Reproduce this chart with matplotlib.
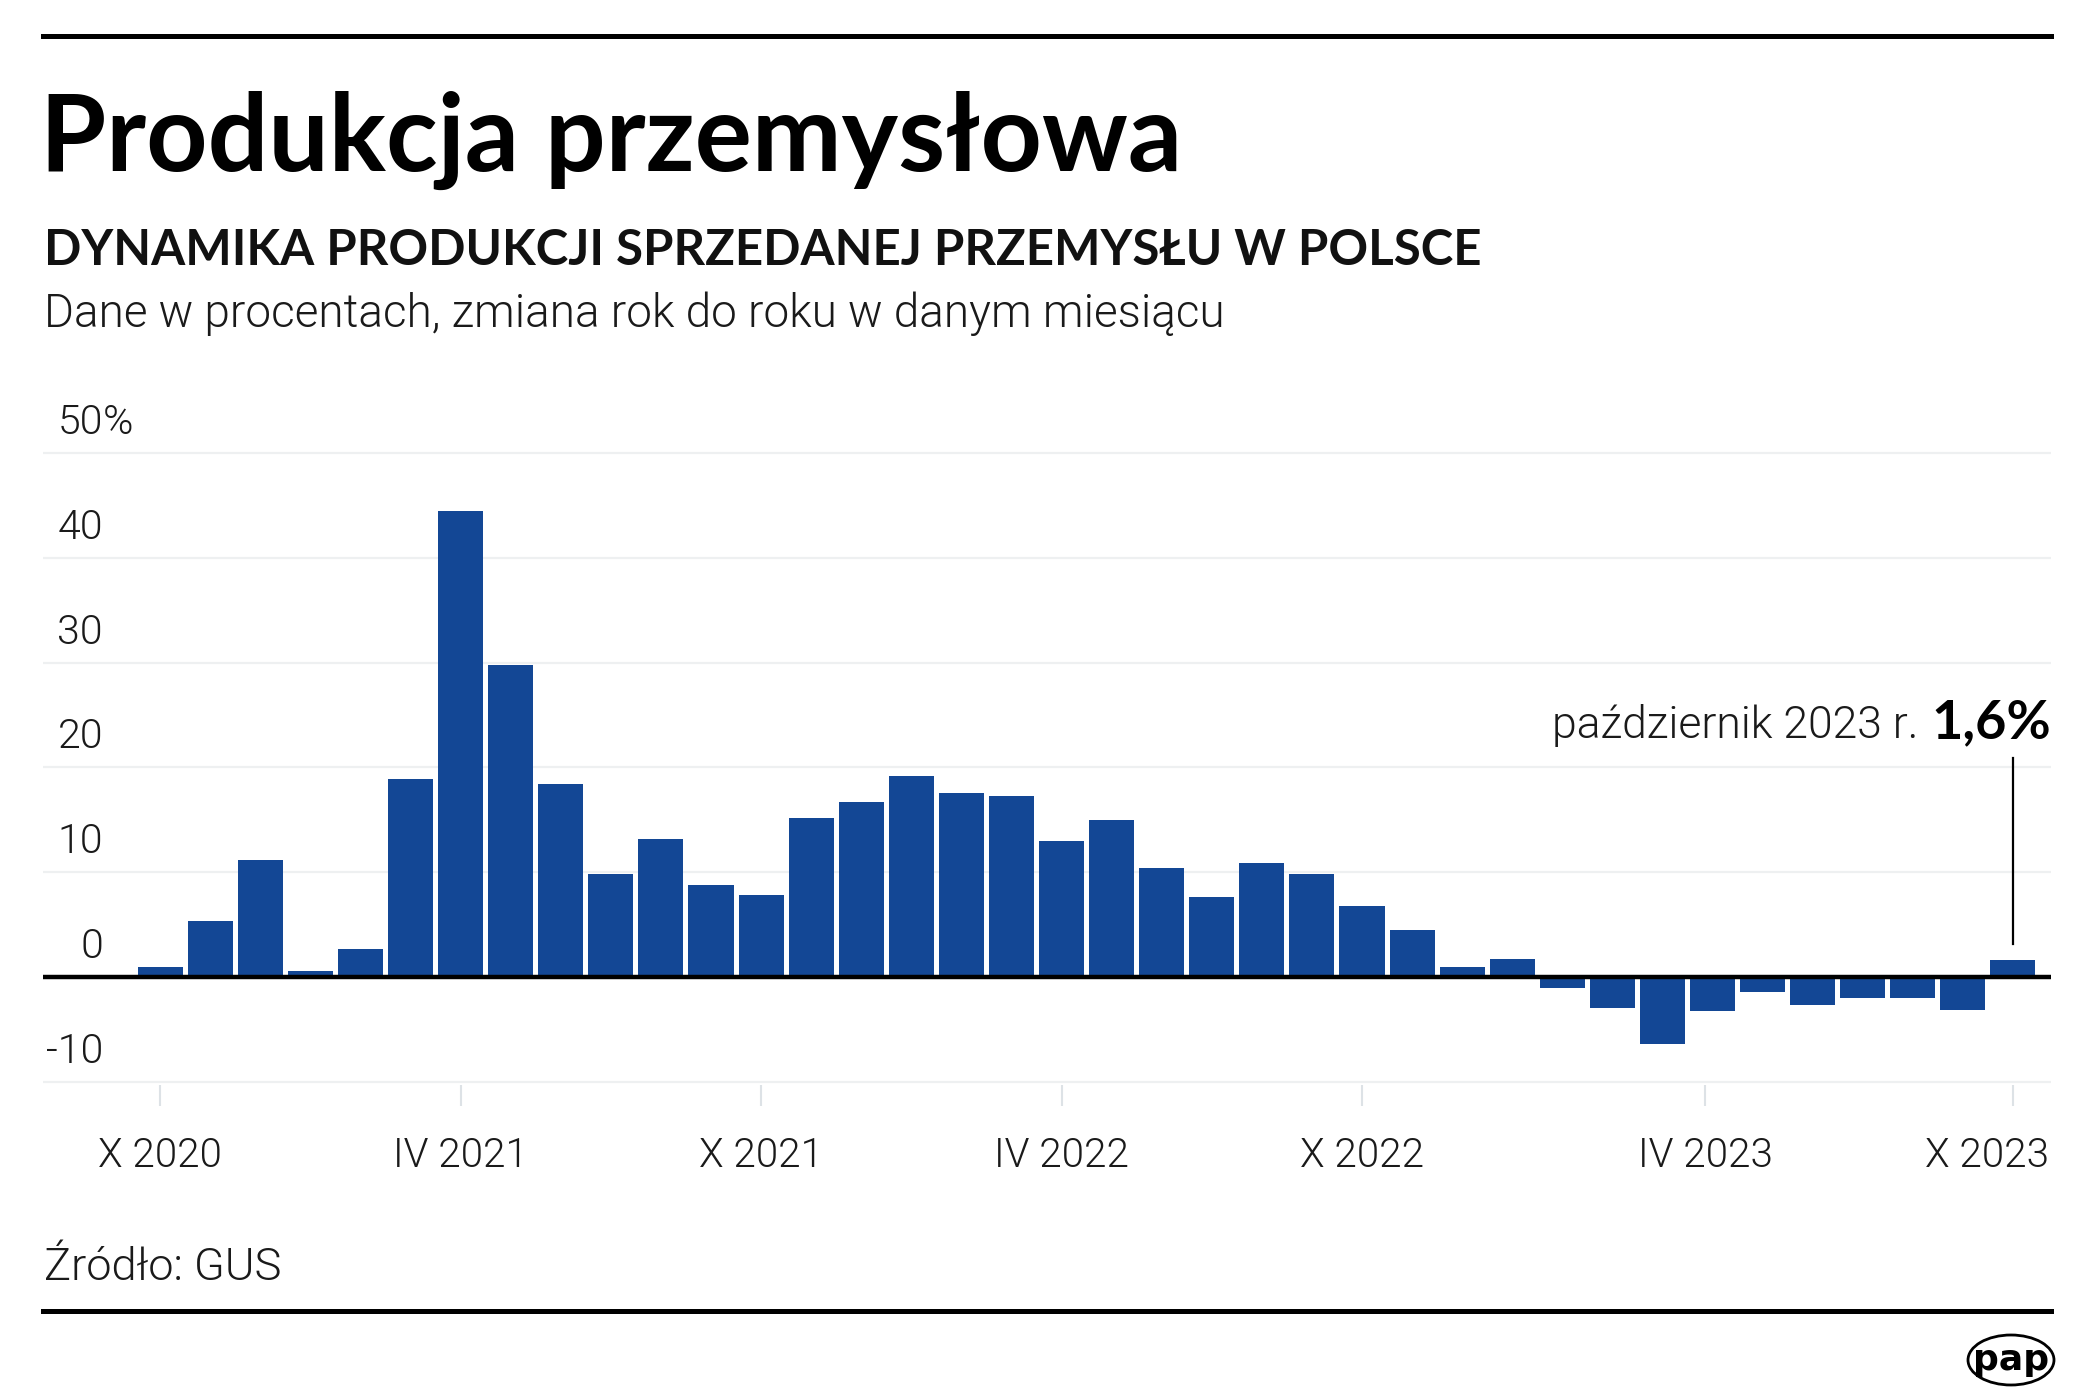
import matplotlib
matplotlib.use("Agg")
import matplotlib.pyplot as plt
from matplotlib.patches import Ellipse
from matplotlib.transforms import IdentityTransform, ScaledTranslation

# dane: dynamika produkcji sprzedanej przemyslu, r/r w %
values = [1.0, 5.4, 11.2, 0.6, 2.7, 18.9, 44.5, 29.8, 18.4, 9.8, 13.2, 8.8,
          7.8, 15.2, 16.7, 19.2, 17.6, 17.3, 13.0, 15.0, 10.4, 7.6, 10.9, 9.8,
          6.8, 4.5, 1.0, 1.7, -1.0, -2.9, -6.4, -3.2, -1.4, -2.7, -2.0, -2.0,
          -3.1, 1.6]
tick_pos = [0, 6, 12, 18, 24, 30.85, 37]
tick_labels = ["X 2020", "IV 2021", "X 2021", "IV 2022", "X 2022", "IV 2023", "X 2023"]
y_ticks = [-10, 0, 10, 20, 30, 40, 50]
last_label = "październik 2023 r."
last_value = "1,6%"

W, H = 2084, 1399
BLUE = "#134795"
TXT = "#1a1a1a"
plt.rcParams["font.family"] = ["Lato", "DejaVu Sans"]
LIGHT = dict(family=["Roboto", "DejaVu Sans"], fontweight=300, color=TXT)

fig = plt.figure(figsize=(W / 100, H / 100), dpi=100)


def fy(px):
    return 1 - px / H


# linie gorna i dolna
for y in (36, 1311):
    fig.add_artist(plt.Line2D([43 / W, 2051 / W], [fy(y), fy(y)], color="black", lw=3.6))

fig.text(40 / W, fy(171), "Produkcja przemysłowa", fontsize=77, fontweight="bold", va="baseline")
fig.text(44 / W, fy(265), "DYNAMIKA PRODUKCJI SPRZEDANEJ PRZEMYSŁU W POLSCE", fontsize=35.4,
         fontweight="bold", va="baseline", color="#111111")
fig.text(44 / W, fy(327), "Dane w procentach, zmiana rok do roku w danym miesiącu", fontsize=33,
         va="baseline", **LIGHT)
fig.text(44 / W, fy(1280), "Źródło: GUS", fontsize=32.6, va="baseline", **LIGHT)

# wykres
ppu = 629 / 60
lo, hi = -10.3, 50.3
top = 453 - (hi - 50) * ppu
bot = 1082 + (-10 - lo) * ppu
ax = fig.add_axes([43 / W, fy(bot), (2051 - 43) / W, (bot - top) / H])
ax.set_ylim(lo, hi)
ax.set_xlim(-2.34, 37.76)
for s in ax.spines.values():
    s.set_visible(False)

for v in y_ticks:
    if v != 0:
        ax.axhline(v, color="#eef0f1", lw=1.6, zorder=0)

ax.bar(range(len(values)), values, width=0.9, color=BLUE, zorder=2)
ax.axhline(0, color="black", lw=3.2, zorder=3)

ax.set_yticks([])
ax.set_xticks(tick_pos, tick_labels)
ax.tick_params(axis="x", length=15, width=1.5, color="#dde2e6", pad=22)
xlabs = ax.get_xticklabels()
for t in xlabs:
    t.set(fontsize=29, **LIGHT)
# ostatnia etykieta dosunieta do prawej krawedzi
xlabs[-1].set_ha("right")
xlabs[-1].set_transform(xlabs[-1].get_transform() + ScaledTranslation(0.36, 0, fig.dpi_scale_trans))

ytr = ax.get_yaxis_transform()
lx = (103 - 43) / 2008
for v in y_ticks:
    ax.text(lx, v + 19 / ppu, str(v), transform=ytr, ha="right", va="baseline", fontsize=29.5, **LIGHT)
    if v == 50:
        ax.text(lx, v + 19 / ppu, "%", transform=ytr, ha="left", va="baseline", fontsize=29.5, **LIGHT)

# adnotacja ostatniej wartosci
n = len(values) - 1
ax.plot([n, n], [values[n] + 1.6, 20.9], color="black", lw=1.6, zorder=3)
fig.canvas.draw()
r = fig.canvas.get_renderer()
tb = fig.text(2051 / W, fy(738), last_value, fontsize=39, fontweight="bold", ha="right", va="baseline")
bw = tb.get_window_extent(r).width
fig.text((2051 - bw - 13) / W, fy(738), last_label, fontsize=32, ha="right", va="baseline", **LIGHT)

# logo pap
fig.add_artist(Ellipse((2011, H - 1360), 86, 50, transform=IdentityTransform(), fill=False,
                       ec="black", lw=2))
fig.text(2011 / W, fy(1360), "pap", fontsize=26, fontweight="heavy", family="DejaVu Sans",
         ha="center", va="center")

fig.savefig("out.png", dpi=100)
